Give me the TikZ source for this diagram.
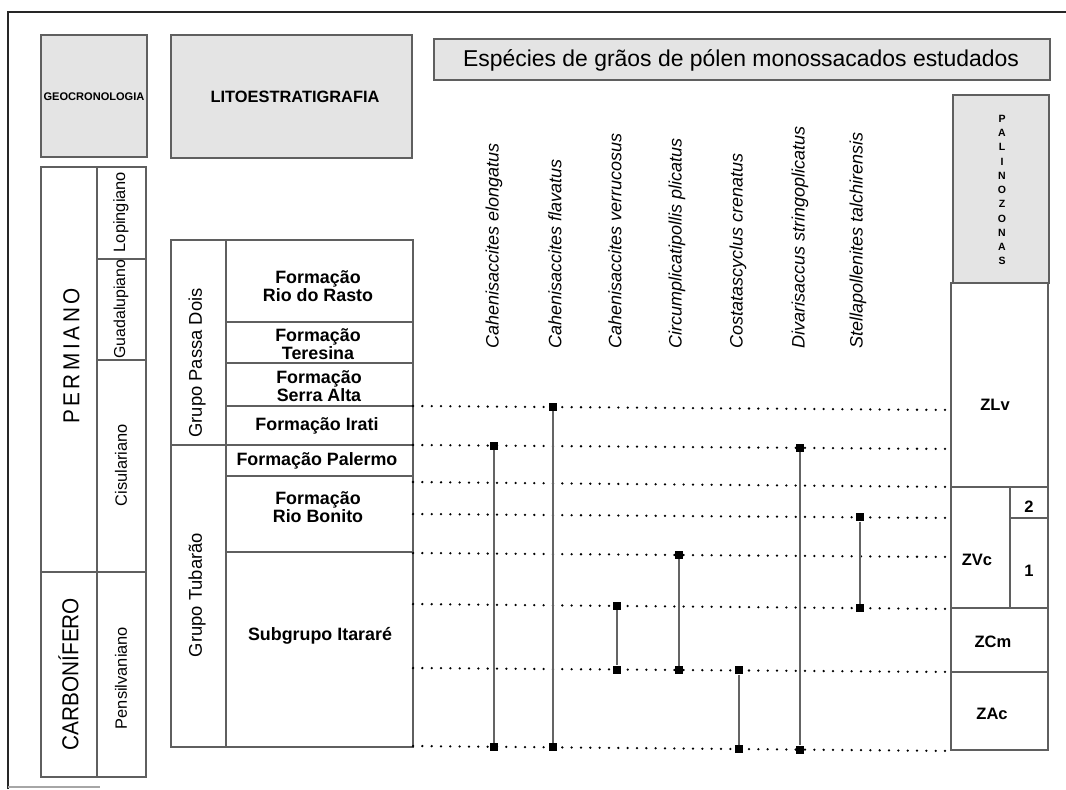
\documentclass[tikz,border=0pt]{standalone}
\usepackage{fontspec}
\setmainfont{Liberation Sans}
\usetikzlibrary{calc}
\definecolor{boxline}{RGB}{95,95,95}
\definecolor{hdrfill}{RGB}{228,228,228}
\definecolor{barline}{RGB}{100,100,100}
\begin{document}
\begin{tikzpicture}[x=0.75pt,y=-0.75pt,
  frame/.style={draw=black!85, line width=1.5pt},
  cell/.style={draw=boxline, line width=1.2pt},
  hdr/.style={cell, fill=hdrfill},
  dotline/.style={line width=1.9pt, dash pattern=on 0pt off 7pt, line cap=round},
  sq/.style={rectangle, fill=black, draw=none, minimum size=6pt, inner sep=0pt},
  bar/.style={draw=barline, line width=1.4pt},
  txt/.style={inner sep=0pt, align=center},
  vlab/.style={txt, rotate=90},
  species/.style={inner sep=0pt, rotate=90, anchor=west, font=\fontsize{13.5}{15}\selectfont\itshape},
  form/.style={txt, font=\fontsize{13.4}{13.5}\selectfont\bfseries},
  age/.style={vlab, font=\fontsize{12.3}{14}\selectfont},
  grp/.style={vlab, font=\fontsize{13.8}{15}\selectfont},
  zone/.style={txt, font=\fontsize{12.4}{14}\selectfont\bfseries}
]
\useasboundingbox (0,0) rectangle (1066,789);

% outer frame
\draw[frame] (8,789) -- (8,12) -- (1066,12);
\draw[draw=black!35, line width=0.8pt] (8,787) -- (100,787);

% header boxes
\draw[hdr] (41,35) rectangle (147,157);
\node[txt, font=\fontsize{8.3}{9}\selectfont\bfseries] (hgeo) at (94,97) {GEOCRONOLOGIA};
\draw[hdr] (171,35) rectangle (412,158);
\node[txt, font=\fontsize{12.3}{14}\selectfont\bfseries] (hlito) at (295,97) {LITOESTRATIGRAFIA};
\draw[hdr] (434,39) rectangle (1050,80);
\node[txt, font=\fontsize{17.2}{19}\selectfont] (hesp) at (741,60) {Espécies de grãos de pólen monossacados estudados};
\draw[hdr] (953,95) rectangle (1049,283);
\node[txt, font=\fontsize{7.9}{10.7}\selectfont\bfseries] (hpal) at (1002,190) {P\\A\\L\\I\\N\\O\\Z\\O\\N\\A\\S};

% geochronology column
\draw[cell] (41,167) rectangle (146,777);
\draw[cell] (97,167) -- (97,777);
\draw[cell] (97,259) -- (146,259);
\draw[cell] (97,360) -- (146,360);
\draw[cell] (41,572) -- (146,572);
\node[vlab, font=\fontsize{17.3}{19}\selectfont] (perm) at (71.5,356) {\scalebox{0.9}[1]{P\hspace{3pt}E\hspace{3pt}R\hspace{3pt}M\hspace{3pt}I\hspace{3pt}A\hspace{3pt}N\hspace{3pt}O}};
\node[vlab, font=\fontsize{17.3}{19}\selectfont] (carb) at (68.5,674) {\scalebox{0.9}[1]{CARBONÍFERO}};
\node[age] (lop) at (121,212) {Lopingiano};
\node[age, font=\fontsize{11.9}{14}\selectfont] (gua) at (121,309) {Guadalupiano};
\node[age] (cis) at (121,465) {Cisulariano};
\node[age] (pen) at (121,678) {Pensilvaniano};

% lithostratigraphy column
\draw[cell] (171,240) rectangle (413,747);
\draw[cell] (226,240) -- (226,747);
\draw[cell] (226,322) -- (413,322);
\draw[cell] (226,363) -- (413,363);
\draw[cell] (226,406) -- (413,406);
\draw[cell] (171,445) -- (413,445);
\draw[cell] (226,476) -- (413,476);
\draw[cell] (226,552) -- (413,552);
\node[grp] (gpd) at (197,363) {Grupo Passa Dois};
\node[grp] (gtu) at (197,595) {Grupo Tubarão};
\node[form] (frr) at (318,286) {Formação\\Rio do Rasto};
\node[form] (fte) at (318,344) {Formação\\Teresina};
\node[form] (fsa) at (319,386) {Formação\\Serra Alta};
\node[form] (fir) at (317,426) {Formação Irati};
\node[form] (fpa) at (317,461) {Formação Palermo};
\node[form] (frb) at (318,507) {Formação\\Rio Bonito};
\node[form] (fit) at (320,636) {Subgrupo Itararé};

% palynozone column
\draw[cell] (951,283) rectangle (1048,750);
\draw[cell] (951,487) -- (1048,487);
\draw[cell] (951,608) -- (1048,608);
\draw[cell] (951,672) -- (1048,672);
\draw[cell] (1010,487) -- (1010,608);
\draw[cell] (1010,518) -- (1048,518);
\node[zone] (zlv) at (995,405) {ZLv};
\node[zone] (zvc) at (977,560) {ZVc};
\node[zone] (z2) at (1029,507) {2};
\node[zone] (z1) at (1029,571) {1};
\node[zone] (zcm) at (993,642) {ZCm};
\node[zone] (zac) at (992,714) {ZAc};

% species labels
\node[species] (s1) at (494,349) {Cahenisaccites elongatus};
\node[species] (s2) at (555,349) {Cahenisaccites flavatus};
\node[species] (s3) at (615,349) {Cahenisaccites verrucosus};
\node[species] (s4) at (677,349) {Circumplicatipollis plicatus};
\node[species] (s5) at (738,349) {Costatascyclus crenatus};
\node[species] (s6) at (800,349) {Divarisaccus stringoplicatus};
\node[species] (s7) at (858,349) {Stellapollenites talchirensis};

% correlation (dotted) lines
\coordinate (L1) at (413,406); \coordinate (R1) at (951,410);
\coordinate (L2) at (413,445); \coordinate (R2) at (951,449);
\coordinate (L3) at (413,482); \coordinate (R3) at (951,487);
\coordinate (L4) at (413,514); \coordinate (R4) at (951,518);
\coordinate (L5) at (413,553); \coordinate (R5) at (951,557);
\coordinate (L6) at (413,604); \coordinate (R6) at (951,609);
\coordinate (L7) at (413,668); \coordinate (R7) at (951,672);
\coordinate (L8) at (413,746); \coordinate (R8) at (951,751);
\foreach \i in {1,...,8} {\draw[dotline] (L\i) -- (R\i);}

% range markers
\node[sq] (a1) at ($(L2)!0.151!(R2)$) {};
\node[sq] (a2) at ($(L8)!0.151!(R8)$) {};
\node[sq] (b1) at ($(L1)!0.260!(R1)$) {};
\node[sq] (b2) at ($(L8)!0.260!(R8)$) {};
\node[sq] (c1) at ($(L6)!0.379!(R6)$) {};
\node[sq] (c2) at ($(L7)!0.379!(R7)$) {};
\node[sq] (d1) at ($(L5)!0.494!(R5)$) {};
\node[sq] (d2) at ($(L7)!0.494!(R7)$) {};
\node[sq] (e1) at ($(L7)!0.606!(R7)$) {};
\node[sq] (e2) at ($(L8)!0.606!(R8)$) {};
\node[sq] (f1) at ($(L2)!0.719!(R2)$) {};
\node[sq] (f2) at ($(L8)!0.719!(R8)$) {};
\node[sq] (g1) at ($(L4)!0.831!(R4)$) {};
\node[sq] (g2) at ($(L6)!0.831!(R6)$) {};
\foreach \p in {a,b,c,d,e,f,g} {\draw[bar] (\p1) -- (\p2);}
\end{tikzpicture}
\end{document}
